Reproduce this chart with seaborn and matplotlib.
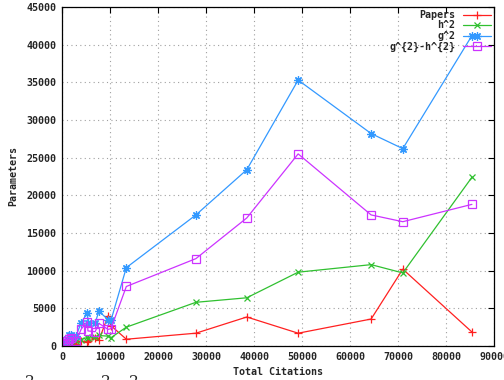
import numpy as np
import pandas as pd
import matplotlib
matplotlib.use("Agg")
import matplotlib.pyplot as plt
import seaborn as sns

# data
total_citations = [300, 700, 1000, 1500, 1800, 2900, 4000, 5300, 5400, 6900,
                   7700, 9600, 10200, 13400, 27900, 38500, 49200, 64400, 71000, 85400]
papers = [100, 150, 300, 200, 400, 300, 700, 500, 600, 1000,
          800, 4000, 2700, 900, 1700, 3850, 1700, 3580, 10200, 1860]
h_sq = [100, 200, 300, 500, 400, 700, 860, 1150, 1000, 1200,
        1400, 1300, 1100, 2500, 5800, 6400, 9800, 10800, 9700, 22400]
g_sq = [300, 600, 900, 1400, 1400, 1300, 3100, 4400, 3000, 3100,
        4600, 3500, 3400, 10400, 17400, 23400, 35300, 28200, 26200, 41200]
g_minus_h = [200, 400, 600, 900, 1000, 600, 2240, 3250, 2000, 1900,
             3000, 2200, 2300, 7900, 11600, 17000, 25500, 17400, 16500, 18800]

series_names = ["Papers", "h^2", "g^2", "g^{2}-h^{2}"]
series_values = [papers, h_sq, g_sq, g_minus_h]
series_colors = ["#ff2020", "#30c030", "#3399ff", "#cc33ff"]
series_markers = ["+", "x", (8, 2, 0), "s"]
marker_sizes = [6, 5, 6, 5.5]

sns.set_style("white")
plt.rcParams["font.family"] = ["DejaVu Sans Mono", "DejaVu Sans"]
plt.rcParams["font.weight"] = "bold"

fig = plt.figure(figsize=(5.04, 3.8), dpi=100)
ax = fig.add_axes([62 / 504, 34 / 380, 432 / 504, 339 / 380])

for name, vals, col, mk, ms in zip(series_names, series_values, series_colors,
                                   series_markers, marker_sizes):
    df = pd.DataFrame({"cites": total_citations, "val": vals})
    kw = dict(markerfacecolor="none") if mk == "s" else {}
    sns.lineplot(data=df, x="cites", y="val", ax=ax, color=col, marker=mk,
                 markersize=ms, markeredgecolor=col, markeredgewidth=0.9,
                 linewidth=0.9, sort=False, estimator=None, label=name, **kw)

ax.set_xlim(0, 90000)
ax.set_ylim(0, 45000)
ax.set_xticks(np.arange(0, 90001, 10000))
ax.set_yticks(np.arange(0, 45001, 5000))
ax.grid(True, color="#a0a0a0", linestyle=(0, (1, 3)), linewidth=0.8)
ax.tick_params(direction="in", length=4, width=0.8, color="black",
               top=True, right=True, labelsize=7.2, pad=4)
for lab in ax.get_xticklabels() + ax.get_yticklabels():
    lab.set_fontweight("bold")
for sp in ax.spines.values():
    sp.set_color("black")
    sp.set_linewidth(0.9)

ax.set_xlabel("Total Citations", fontsize=7.2, fontweight="bold", labelpad=4)
ax.set_ylabel("Parameters", fontsize=7.2, fontweight="bold", labelpad=6)

leg = ax.legend(loc="upper right", frameon=False, markerfirst=False,
                fontsize=7.2, handlelength=2.8, handletextpad=0.8,
                labelspacing=0.05, borderaxespad=0.2, borderpad=0.1)
for t in leg.get_texts():
    t.set_fontweight("bold")

# cut-off superscripts of a caption below the chart
for xp in [30, 106, 134]:
    fig.text(xp / 504, 1 - 375 / 380, "2", family="DejaVu Serif", fontsize=11,
             ha="center", va="top", fontweight="normal")

fig.savefig("out.png", dpi=100)
